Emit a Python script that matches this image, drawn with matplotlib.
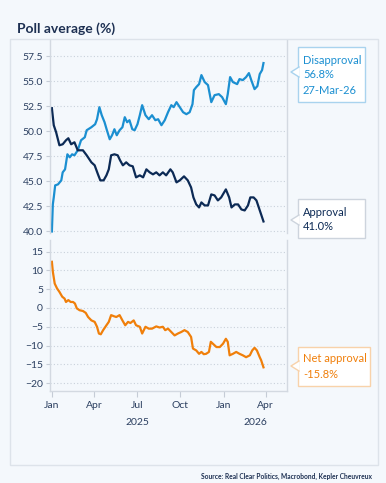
import matplotlib
matplotlib.use("Agg")
import matplotlib.pyplot as plt
import matplotlib.dates as mdates
from matplotlib.patches import Rectangle, Polygon
from matplotlib.lines import Line2D
import pandas as pd

# Dades llegides de la gràfica (dies des de l'1-gen-2025, valors en %)
approval_days = [0, 4, 9, 16, 23, 30, 35, 41, 48, 55, 66, 74, 84, 91, 98, 103, 110, 116, 121, 126,
                 133, 140, 145, 151, 158, 165, 172, 179, 187, 194, 201, 208, 215, 222, 229, 236, 243,
                 252, 257, 265, 272, 281, 289, 296, 301, 307, 313, 318, 325, 332, 339, 346, 353, 360,
                 370, 377, 382, 389, 396, 403, 410, 417, 422, 429, 435, 440, 445, 450]
approval = [52.3, 50.6, 49.9, 48.6, 48.7, 49.1, 49.3, 48.7, 48.9, 48.1, 48.1, 47.6, 46.9, 46.6, 45.7,
            45.1, 45.1, 45.6, 46.2, 47.6, 47.7, 47.6, 47.1, 46.6, 46.9, 46.6, 46.5, 45.4, 45.6, 45.4,
            46.2, 45.9, 45.7, 45.9, 45.6, 45.9, 45.6, 46.2, 45.9, 44.9, 45.1, 45.5, 45.1, 44.4, 43.4,
            42.7, 42.4, 42.9, 42.6, 42.6, 43.7, 43.6, 43.1, 43.4, 44.2, 43.4, 42.4, 42.7, 42.7, 42.2,
            42.1, 42.6, 43.4, 43.4, 43.1, 42.4, 41.7, 41.0]

disapproval_days = [0, 2, 4, 7, 13, 20, 23, 28, 33, 38, 43, 48, 55, 62, 70, 74, 84, 92, 96, 101,
                    106, 112, 117, 123, 128, 133, 138, 144, 150, 155, 160, 165, 171, 176, 182, 187,
                    192, 199, 206, 213, 220, 226, 233, 240, 247, 254, 259, 265, 272, 279, 286, 293,
                    299, 302, 307, 313, 318, 325, 332, 339, 346, 355, 362, 370, 374, 379, 385, 394,
                    399, 406, 413, 419, 424, 431, 437, 442, 447, 450]
disapproval = [40.0, 42.7, 43.4, 44.6, 44.7, 45.1, 45.9, 46.2, 47.7, 47.4, 47.7, 47.6, 48.1, 49.1,
               49.4, 50.1, 50.4, 50.7, 51.2, 52.4, 51.6, 50.9, 50.1, 49.2, 49.6, 50.2, 49.6, 50.1,
               50.4, 51.4, 50.9, 51.1, 50.2, 50.1, 50.7, 51.6, 52.6, 51.6, 51.2, 51.6, 51.1, 51.2,
               50.6, 51.1, 51.9, 52.6, 52.4, 52.9, 52.4, 51.9, 51.7, 51.9, 52.7, 54.1, 54.4, 54.7,
               55.6, 54.9, 54.6, 52.9, 53.6, 53.7, 53.4, 52.7, 53.7, 55.4, 54.9, 54.7, 55.2, 55.1,
               55.4, 55.8, 55.1, 54.2, 54.5, 55.7, 56.1, 56.8]

net_days = [0, 2, 6, 11, 16, 22, 27, 30, 35, 40, 45, 49, 53, 59, 66, 72, 77, 84, 91, 96, 100, 104,
            109, 116, 121, 126, 132, 137, 144, 150, 156, 162, 167, 174, 179, 187, 192, 199, 206,
            213, 222, 229, 236, 241, 247, 254, 261, 268, 275, 282, 289, 296, 300, 307, 313, 318,
            323, 328, 334, 338, 344, 350, 357, 364, 370, 374, 378, 385, 392, 399, 406, 413, 421,
            426, 431, 436, 442, 445, 450]
net = [12.3, 9.7, 6.5, 5.2, 4.3, 3.0, 2.5, 1.6, 2.1, 1.6, 1.6, 1.2, -0.1, -0.6, -0.8, -1.3, -2.4,
       -3.3, -3.7, -5.0, -6.8, -7.0, -5.9, -4.6, -3.7, -1.9, -2.2, -2.4, -1.9, -3.3, -4.6, -3.7,
       -4.0, -3.3, -4.6, -5.0, -6.8, -5.0, -5.5, -5.5, -4.9, -5.2, -5.0, -5.9, -5.5, -6.4, -7.3,
       -6.8, -6.4, -5.9, -6.4, -7.7, -10.8, -11.3, -12.2, -11.7, -12.3, -12.2, -11.7, -9.0, -9.7,
       -10.4, -10.4, -9.5, -8.2, -9.0, -12.6, -12.2, -11.7, -12.2, -12.6, -13.1, -12.6, -11.3,
       -10.6, -11.3, -13.1, -13.9, -15.8]

top_ticks = [40.0, 42.5, 45.0, 47.5, 50.0, 52.5, 55.0, 57.5]
bottom_ticks = [-20, -15, -10, -5, 0, 5, 10, 15]
month_ticks = ["2025-01-01", "2025-04-01", "2025-07-01", "2025-10-01", "2026-01-01", "2026-04-01"]
month_labels = ["Jan", "Apr", "Jul", "Oct", "Jan", "Apr"]

# Colors
C_DIS = "#1b8fd1"
C_APP = "#0c2a55"
C_NET = "#f07f0a"
C_TXT = "#2b3f60"
C_GRID = "#c9d1db"
BG = "#f4f8fc"

plt.rcParams['font.family'] = ['Lato', 'DejaVu Sans']

W, H = 386, 483
start = pd.Timestamp("2025-01-01")
def to_dates(days):
    return start + pd.to_timedelta(days, unit="D")

fig = plt.figure(figsize=(W / 100, H / 100), dpi=100, facecolor=BG)

def fx(x):
    return x / W
def fy(y):
    return 1 - y / H

# Marc
fig.patches.append(Rectangle((fx(10), fy(465)), fx(378) - fx(10), fy(39) - fy(465),
                             transform=fig.transFigure, fc="none", ec="#dde3ea", lw=1))

xmin = pd.Timestamp("2024-12-28")
xmax = pd.Timestamp("2026-05-16")

ax1 = fig.add_axes([fx(50), fy(233), fx(287) - fx(50), fy(40) - fy(233)])
ax2 = fig.add_axes([fx(50), fy(391), fx(287) - fx(50), fy(240) - fy(391)])

for ax in (ax1, ax2):
    ax.set_facecolor("none")
    ax.set_xlim(xmin, xmax)
    ax.spines["top"].set_visible(False)
    for s in ("left", "right", "bottom"):
        ax.spines[s].set_color("#d3d9e1")
        ax.spines[s].set_linewidth(1)
    ax.grid(axis="y", color=C_GRID, linestyle=(0, (1, 2)), linewidth=0.8)
    ax.tick_params(axis="y", colors="#c5ccd6", labelcolor=C_TXT, labelsize=7.5, length=3, pad=2)
    ax.set_axisbelow(True)

ax1.spines["bottom"].set_visible(False)
ax1.plot(to_dates(disapproval_days), disapproval, color=C_DIS, lw=1.6)
ax1.plot(to_dates(approval_days), approval, color=C_APP, lw=1.6)
ax1.set_ylim(39.85, 59.1)
ax1.set_yticks(top_ticks)
ax1.set_yticklabels([f"{v:.1f}" for v in top_ticks])
ax1.tick_params(axis="x", bottom=False, labelbottom=False)

ax2.plot(to_dates(net_days), net, color=C_NET, lw=1.6)
ax2.set_ylim(-22.1, 18.1)
ax2.set_yticks(bottom_ticks)
ax2.set_xticks(pd.to_datetime(month_ticks))
ax2.set_xticklabels(month_labels)
ax2.tick_params(axis="x", colors="#c5ccd6", labelcolor=C_TXT, labelsize=7.5, length=4, pad=3)

# Etiquetes d'any
mid25 = pd.Timestamp("2025-07-02")
mid26 = pd.Timestamp("2026-01-01") + (xmax - pd.Timestamp("2026-01-01")) / 2
for d, s in ((mid25, "2025"), (mid26, "2026")):
    ax2.annotate(s, xy=(mdates.date2num(d), 0), xycoords=("data", "axes fraction"),
                 xytext=(0, -22.5), textcoords="offset points", ha="center", va="center",
                 fontsize=7.5, color=C_TXT)

# Titol
fig.text(fx(17), fy(29), "Poll average (%)", fontsize=10, fontweight="bold",
         color="#1d3052", va="center", ha="left")

# Caixes d'anotacio
def callout(x0, y0, x1, y1, py, edge, lines, color, line_ys):
    fig.patches.append(Rectangle((fx(x0), fy(y1)), fx(x1) - fx(x0), fy(y0) - fy(y1),
                                 transform=fig.transFigure, fc="white", ec=edge, lw=1))
    tri = [(fx(x0 + 1), fy(py - 5)), (fx(x0 - 7), fy(py)), (fx(x0 + 1), fy(py + 5))]
    fig.patches.append(Polygon(tri, closed=True, transform=fig.transFigure, fc="white", ec="none"))
    fig.lines.append(Line2D([p[0] for p in tri], [p[1] for p in tri],
                            transform=fig.transFigure, color=edge, lw=1))
    for s, ly in zip(lines, line_ys):
        fig.text(fx(x0 + 5), fy(ly), s, fontsize=8, color=color, va="center", ha="left")

callout(298, 47, 365, 102, 72, "#a9d3ee", ["Disapproval", "56.8%", "27-Mar-26"], C_DIS, [61, 75, 90])
callout(298, 199, 365, 238, 220, "#cdd4dd", ["Approval", "41.0%"], C_APP, [212, 227])
callout(298, 347, 370, 386, 366, "#f8d2aa", ["Net approval", "-15.8%"], C_NET, [359, 374])

fig.text(fx(372), fy(476), "Source: Real Clear Politics, Macrobond, Kepler Cheuvreux",
         fontsize=4.8, fontweight="bold", color="#1d3052", ha="right", va="center")

fig.savefig("out.png", dpi=100, facecolor=BG)
